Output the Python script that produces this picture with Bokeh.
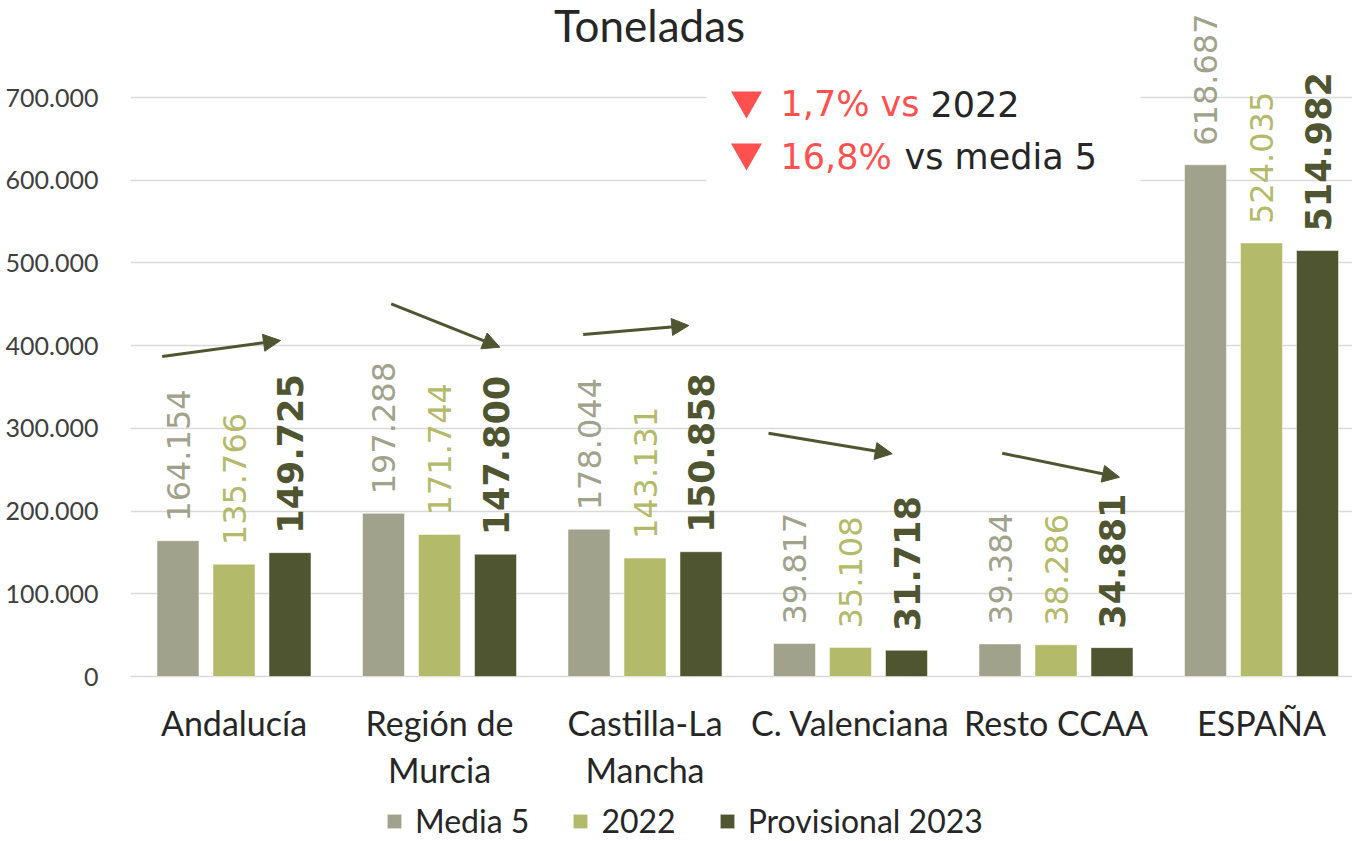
import math
from bokeh.plotting import figure
from bokeh.models import (Range1d, FixedTicker, ColumnDataSource, Arrow, NormalHead,
                          Legend, LegendItem, BoxAnnotation)
from bokeh.core.properties import value
from bokeh.embed import file_html
from bokeh.resources import INLINE

# ---------------- data ----------------
categories = ["Andalucía", "Región de\nMurcia", "Castilla-La\nMancha",
              "C. Valenciana", "Resto CCAA", "ESPAÑA"]
series_names = ["Media 5", "2022", "Provisional 2023"]
media5 = [164154, 197288, 178044, 39817, 39384, 618687]
y2022 = [135766, 171744, 143131, 35108, 38286, 524035]
prov2023 = [149725, 147800, 150858, 31718, 34881, 514982]
y_ticks = [0, 100000, 200000, 300000, 400000, 500000, 600000, 700000]
y_tick_labels = ["0", "100.000", "200.000", "300.000", "400.000",
                 "500.000", "600.000", "700.000"]
title_text = "Toneladas"
note_red = ["1,7% vs", "16,8%"]
note_black = ["2022", "vs media 5"]

# ---------------- styling / geometry ----------------
C_M5 = "#A0A28B"
C_22 = "#B3BA69"
C_23 = "#4F5530"
C_TXT = "#262626"
C_RED = "#FF5050"
C_ARROW = "#4F5530"

OFF = 0                 # page offset of the figure on screen
PX_X = 205.5            # px per category
PX_Y = 82.71 / 100000   # px per ton
X0_S = 130.75           # screen x of x=0
Y0_S = 676.0            # screen y of y=0
W, H = 1352, 841
FL_S, FR_S, FT_S, FB_S = 130, OFF + W, OFF, OFF + H


def dx(sx):
    return (sx - X0_S) / PX_X


def dy(sy):
    return (Y0_S - sy) / PX_Y


p = figure(width=W, height=H, output_backend="svg", toolbar_location=None,
           x_range=Range1d(dx(FL_S), dx(FR_S)), y_range=Range1d(dy(FB_S), dy(FT_S)),
           min_border_left=FL_S - OFF, min_border_right=0, min_border_top=0,
           min_border_bottom=0)
p.outline_line_color = None
p.background_fill_color = "white"
p.xaxis.visible = False
p.xgrid.visible = False
ticker = FixedTicker(ticks=y_ticks)
p.yaxis.ticker = ticker
p.yaxis.major_label_overrides = {t: l for t, l in zip(y_ticks, y_tick_labels)}
p.yaxis.axis_line_color = None
p.yaxis.major_tick_line_color = None
p.yaxis.minor_tick_line_color = None
p.yaxis.major_label_standoff = 26
p.yaxis.major_label_text_font = "Lato"
p.yaxis.major_label_text_font_size = "25px"
p.yaxis.major_label_text_color = "#404040"
p.ygrid.ticker = ticker
p.ygrid.grid_line_color = "#D9D9D9"
p.ygrid.grid_line_width = 1.6

# white box behind the note (hides grid lines)
p.add_layout(BoxAnnotation(left=dx(706), right=dx(1140), top=dy(70), bottom=dy(200),
                           fill_color="white", fill_alpha=1, line_color=None,
                           level="underlay"))

centers = [i + 0.5 for i in range(len(categories))]
offset = 56 / PX_X
bw = 42 / PX_X
series = [media5, y2022, prov2023]
colors = [C_M5, C_22, C_23]
renderers = []
for k, (vals, col) in enumerate(zip(series, colors)):
    xs = [c + (k - 1) * offset for c in centers]
    src = ColumnDataSource(dict(x=xs, top=vals,
                                ly=[v + 19 / PX_Y for v in vals],
                                lab=[f"{v:,}".replace(",", ".") for v in vals]))
    r = p.vbar(x="x", top="top", bottom=0, width=bw, source=src, fill_color=col,
               line_color="white", line_alpha=0.5, line_width=1)
    renderers.append(r)
    bold = (k == 2)
    p.text(x="x", y="ly", text="lab", source=src, angle=math.pi / 2,
           text_align="left", text_baseline="middle",
           text_font=value("DejaVu Sans"),
           text_font_size="35px" if bold else "32px",
           text_font_style="bold" if bold else "normal",
           text_color=col)

# category labels
line1 = [c.split("\n")[0] for c in categories]
line2 = [c.split("\n")[1] if "\n" in c else "" for c in categories]
p.text(x=centers, y=[dy(722)] * len(centers), text=line1, text_align="center",
       text_baseline="alphabetic", text_font=value("Lato"), text_font_size="34px",
       text_color=C_TXT)
p.text(x=centers, y=[dy(769)] * len(centers), text=line2, text_align="center",
       text_baseline="alphabetic", text_font=value("Lato"), text_font_size="34px",
       text_color=C_TXT)

# title
p.text(x=[dx(649)], y=[dy(24)], text=[title_text], text_align="center",
       text_baseline="middle", text_font=value("Lato"), text_font_size="44px",
       text_color=C_TXT)

# note
p.scatter(x=[dx(746)] * 2, y=[dy(100), dy(152)], marker="inverted_triangle",
          size=31, fill_color=C_RED, line_color=None)
p.text(x=[dx(780)] * 2, y=[dy(103.5), dy(156)], text=note_red, text_align="left",
       text_baseline="alphabetic", text_font=value("DejaVu Sans"),
       text_font_size="35px", text_color=C_RED)
p.text(x=[dx(930), dx(904)], y=[dy(103.5), dy(156)], text=note_black,
       text_align="left", text_baseline="alphabetic", text_font=value("DejaVu Sans"),
       text_font_size="35px", text_color=C_TXT)

# trend arrows (screen px positions)
arrows_px = [((161.7, 356), (280, 340)),
             ((390.7, 303.3), (499.3, 346.7)),
             ((582.7, 334), (688.3, 325)),
             ((768, 432.7), (891.7, 453.3)),
             ((1001.7, 452.7), (1119, 476.7))]
for (a, b) in arrows_px:
    p.add_layout(Arrow(end=NormalHead(size=17, fill_color=C_ARROW, line_color=C_ARROW),
                       x_start=dx(a[0]), y_start=dy(a[1]), x_end=dx(b[0]), y_end=dy(b[1]),
                       line_color=C_ARROW, line_width=3))

legend = Legend(items=[LegendItem(label=n, renderers=[r]) for n, r in zip(series_names, renderers)],
                orientation="horizontal", location=(385 - FL_S, 1), glyph_width=18,
                glyph_height=18, label_standoff=12, spacing=42, padding=0, margin=0,
                border_line_color=None, background_fill_alpha=0,
                label_text_font="Lato", label_text_font_size="32px",
                label_text_color=C_TXT)
p.add_layout(legend)

open("out.html", "w").write(file_html(p, INLINE))
